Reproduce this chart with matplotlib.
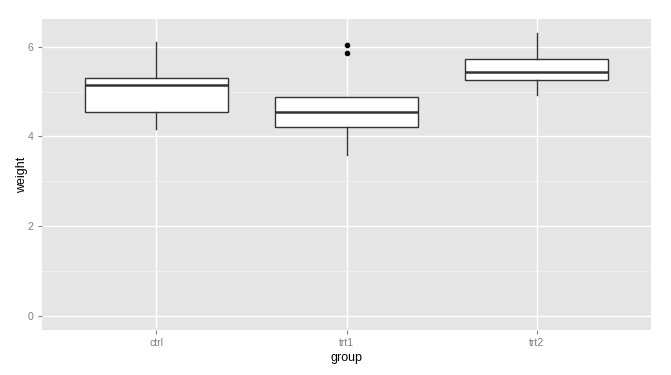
import numpy as np
import matplotlib
matplotlib.use("Agg")
import matplotlib.pyplot as plt

plt.rcParams["font.family"] = ["Liberation Sans", "DejaVu Sans"]

# PlantGrowth data
groups = ["ctrl", "trt1", "trt2"]
ctrl = [4.17, 5.58, 5.18, 6.11, 4.50, 4.61, 5.17, 4.53, 5.33, 5.14]
trt1 = [4.81, 4.17, 4.41, 3.59, 5.87, 3.83, 6.03, 4.89, 4.32, 4.69]
trt2 = [6.31, 5.12, 5.54, 5.50, 5.37, 5.29, 4.92, 6.15, 5.80, 5.26]
y_ticks = [0, 2, 4, 6]

fig = plt.figure(figsize=(6.71, 3.75), dpi=100)
ax = fig.add_axes([42 / 671, 1 - 330 / 375, (651 - 42) / 671, (330 - 18.7) / 375])
ax.set_facecolor("#E5E5E5")

positions = np.arange(1, len(groups) + 1)
ax.boxplot([ctrl, trt1, trt2], positions=positions, widths=0.75,
           whis=1.5, patch_artist=True, showcaps=False, zorder=3,
           boxprops=dict(facecolor="white", edgecolor="#333333", linewidth=1.0),
           medianprops=dict(color="#333333", linewidth=1.8),
           whiskerprops=dict(color="#333333", linewidth=1.0),
           flierprops=dict(marker="o", markersize=3, markerfacecolor="black",
                           markeredgecolor="black"))

ymax = max(max(ctrl), max(trt1), max(trt2))
pad = 0.05 * ymax
ax.set_ylim(-pad, ymax + pad)
ax.set_xlim(0.4, len(groups) + 0.6)

ax.set_yticks(y_ticks)
ax.set_yticks([1, 3, 5], minor=True)
ax.set_xticks(positions)
ax.set_xticklabels(groups)

ax.grid(True, which="major", color="white", linewidth=1.0, zorder=0)
ax.grid(True, which="minor", axis="y", color="#F2F2F2", linewidth=0.6, zorder=0)
ax.set_axisbelow(True)

for s in ax.spines.values():
    s.set_visible(False)

ax.tick_params(axis="both", which="major", colors="#7F7F7F", labelsize=7.5,
               length=3, width=0.8, pad=3)
ax.tick_params(axis="y", which="minor", length=0)
ax.tick_params(axis="both", labelcolor="#7F7F7F")

ax.set_xlabel("group", fontsize=9, labelpad=3)
ax.set_ylabel("weight", fontsize=9, labelpad=0)

fig.savefig("out.png", dpi=100)
